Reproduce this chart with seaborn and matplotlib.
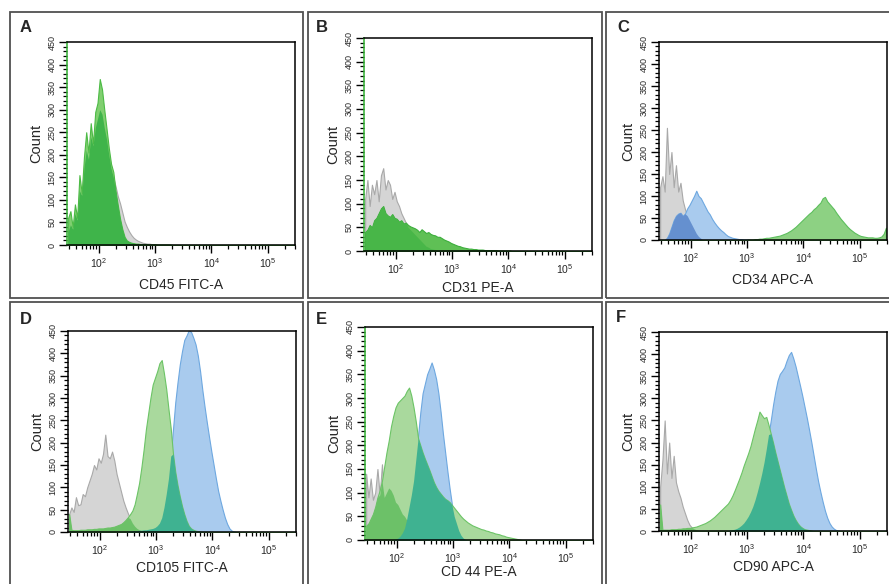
import numpy as np
import pandas as pd
import matplotlib
matplotlib.use("Agg")
import matplotlib.pyplot as plt
import seaborn as sns
from matplotlib.patches import Rectangle
from matplotlib.ticker import LogLocator, MultipleLocator, NullFormatter

sns.set_style("ticks")
plt.rcParams["font.family"] = ["Liberation Sans", "DejaVu Sans"]
plt.rcParams["mathtext.default"] = "regular"

# histogram bins: 0.04 decade wide, log10 scale from 1.44 to 5.48
STEP = 0.04
LOG_MIN, LOG_MAX = 1.44, 5.48

# ---- data: counts per bin, each series starts at the given log10 value ----
# A  CD45 FITC-A
grey_A_start = 1.44
grey_A = [30, 45, 35, 70, 55, 120, 110, 170, 210, 190, 240, 220, 260, 280, 300, 290,
          260, 235, 200, 170, 150, 130, 108, 92, 72, 52, 40, 30, 22, 16, 12, 9, 7, 5,
          4, 3, 3, 2, 2, 1]
green_A_start = 1.44
green_A = [60, 75, 40, 90, 60, 155, 115, 195, 250, 205, 270, 225, 295, 315, 368, 345,
           300, 258, 215, 180, 162, 120, 88, 58, 35, 18, 10, 7, 5, 4, 3, 3, 2, 2, 2, 2,
           1, 1, 2, 1, 1, 1, 1, 1, 1, 1]

# B  CD31 PE-A
grey_B_start = 1.44
grey_B = [110, 150, 95, 140, 120, 150, 105, 160, 175, 130, 150, 140, 110, 125, 105, 95,
          80, 70, 60, 50, 45, 40, 35, 30, 25, 20, 15, 10, 8, 5, 4, 3]
green_B_start = 1.44
green_B = [40, 45, 55, 50, 65, 70, 80, 90, 95, 80, 75, 72, 78, 70, 68, 62, 65, 58, 60,
           55, 52, 50, 48, 45, 40, 46, 42, 38, 40, 36, 34, 33, 30, 30, 27, 24, 22, 20,
           17, 15, 13, 11, 10, 8, 7, 6, 5, 5, 4, 4, 3, 3, 3, 2, 2, 2, 2, 2, 2, 1, 1, 1,
           1, 1, 1]

# C  CD34 APC-A
grey_C_start = 1.44
grey_C = [120, 145, 110, 255, 150, 200, 120, 170, 110, 130, 90, 70, 55, 45, 35, 25, 15,
          8, 4]
blue_C_start = 1.56
blue_C = [5, 15, 30, 45, 55, 60, 62, 55, 60, 72, 80, 90, 100, 112, 100, 95, 85, 75, 65,
          58, 48, 40, 33, 27, 22, 18, 13, 9, 7, 5, 4, 3, 2, 2, 1, 1, 1]
green_C_start = 3.00
green_C = [1, 1, 1, 2, 2, 3, 3, 4, 5, 5, 6, 7, 8, 9, 10, 12, 14, 16, 19, 22, 26, 30, 35,
           40, 45, 50, 55, 60, 64, 70, 74, 80, 85, 95, 98, 88, 82, 76, 70, 62, 55, 48,
           42, 36, 30, 25, 21, 17, 14, 11, 9, 8, 7, 6, 6, 6, 5, 5, 6, 8, 14, 28]

# D  CD105 FITC-A
grey_D_start = 1.44
grey_D = [40, 55, 45, 78, 60, 62, 85, 80, 100, 115, 130, 150, 140, 165, 155, 175, 218,
          170, 165, 180, 160, 130, 110, 90, 70, 55, 42, 30, 20, 13, 8, 5, 3, 2]
green_D_start = 1.44
green_D = [40, 5, 4, 4, 4, 5, 5, 5, 6, 6, 6, 7, 7, 8, 8, 8, 9, 10, 10, 11, 12, 14, 16,
           18, 22, 27, 33, 40, 48, 62, 85, 110, 145, 185, 230, 265, 300, 330, 345, 360,
           378, 385, 355, 320, 275, 232, 175, 135, 105, 80, 58, 40, 25, 14, 8, 5, 3, 2, 1]
blue_D_start = 2.48
blue_D = [2, 2, 3, 3, 3, 4, 4, 5, 5, 6, 7, 8, 10, 14, 20, 32, 55, 85, 120, 170, 230,
          290, 335, 375, 405, 430, 440, 452, 448, 435, 420, 395, 360, 318, 280, 245,
          212, 180, 150, 120, 92, 70, 50, 32, 18, 8, 3, 1]

# E  CD 44 PE-A
grey_E_start = 1.44
grey_E = [140, 90, 130, 85, 100, 150, 95, 160, 90, 100, 110, 105, 95, 80, 75, 65, 55,
          50, 42, 38, 34, 30, 27, 24, 21, 18, 15, 13, 10, 8, 6, 4, 3, 2]
green_E_start = 1.44
green_E = [30, 35, 45, 55, 70, 90, 105, 125, 155, 185, 210, 240, 262, 280, 290, 295,
           300, 305, 315, 322, 305, 280, 250, 215, 200, 185, 172, 160, 148, 135, 122,
           112, 104, 98, 92, 87, 84, 80, 74, 68, 62, 56, 50, 45, 41, 37, 34, 31, 29, 27,
           25, 23, 22, 20, 19, 17, 16, 14, 13, 12, 10, 9, 7, 6, 5, 4, 3, 2, 1]
blue_E_start = 1.96
blue_E = [2, 4, 8, 15, 25, 45, 70, 95, 125, 170, 220, 270, 310, 330, 350, 362, 375, 360,
          340, 310, 270, 225, 185, 145, 108, 75, 50, 35, 20, 10, 4, 1]

# F  CD90 APC-A
grey_F_start = 1.44
grey_F = [100, 160, 250, 130, 200, 120, 170, 110, 90, 75, 55, 40, 25, 14, 8, 5, 3, 2]
green_F_start = 1.44
green_F = [60, 3, 3, 3, 3, 4, 4, 4, 5, 5, 6, 6, 7, 7, 8, 9, 10, 12, 14, 16, 18, 21, 24,
           28, 32, 37, 42, 47, 52, 57, 62, 70, 80, 92, 105, 118, 132, 148, 162, 176, 192,
           212, 232, 250, 270, 262, 255, 258, 240, 220, 200, 178, 158, 138, 118, 98, 80,
           62, 48, 35, 25, 17, 11, 7, 4, 3, 2, 1]
blue_F_start = 2.68
blue_F = [2, 3, 4, 6, 9, 13, 18, 25, 33, 43, 55, 70, 88, 108, 130, 155, 185, 218, 250,
          285, 315, 340, 355, 362, 370, 385, 398, 405, 390, 372, 350, 328, 305, 280, 255,
          228, 200, 170, 140, 112, 88, 66, 46, 30, 18, 10, 5, 2, 1]

letters = ["A", "B", "C", "D", "E", "F"]
xlabels = ["CD45 FITC-A", "CD31 PE-A", "CD34 APC-A",
           "CD105 FITC-A", "CD 44 PE-A", "CD90 APC-A"]

# ---- styling ----
GREY, GREY_EDGE = "#d5d5d5", "#a9a9a9"
BLUE, BLUE_EDGE = "#a9cbee", "#6ea8e0"
LGREEN, LGREEN_EDGE = "#a9d99d", "#6cc466"
TEAL = "#3fb291"
DKBLUE = "#6590cf"
MIDGREEN = "#6cc168"
BRIGHT_GREEN, BRIGHT_GREEN_DK = "#80cf70", "#3fb44a"
CGREEN, CGREEN_EDGE = "#8dd183", "#5dbf5d"

W, H = 889, 584
n_bins = int(round((LOG_MAX - LOG_MIN) / STEP))
centers = LOG_MIN + STEP * (np.arange(n_bins) + 0.5)


def full(start, counts):
    out = np.zeros(n_bins)
    i = int(round((start - LOG_MIN) / STEP))
    out[i:i + len(counts)] = counts
    return out


def hist(ax, counts, fill, edge=None, lw=0.8):
    df = pd.DataFrame({"x": 10 ** centers, "w": counts})
    sns.histplot(data=df, x="x", weights="w", binwidth=STEP, binrange=(LOG_MIN, LOG_MAX),
                 log_scale=True, element="poly", fill=True, color=fill, alpha=1,
                 edgecolor=edge if edge else fill, linewidth=lw if edge else 0, ax=ax)


fig = plt.figure(figsize=(W / 100, H / 100), dpi=100)

# panel frames (pixel boxes)
frames = [(10, 12, 303, 298), (308, 12, 602, 298), (606, 12, 900, 298),
          (10, 302, 303, 600), (308, 302, 602, 600), (606, 302, 900, 600)]
# axes boxes (left, top, right, bottom) in pixels
boxes = [(67, 42, 295, 245), (364, 38, 592, 251), (659, 42, 887, 240),
         (68, 331, 296, 532), (365, 327, 593, 540), (659, 332, 887, 531)]
label_pads = [6, 4, 6, 3, 0, 3]

axes = []
for (l, t, r, b) in boxes:
    axes.append(fig.add_axes([l / W, 1 - b / H, (r - l) / W, (b - t) / H]))

# A
ax = axes[0]
g, gr = full(green_A_start, green_A), full(grey_A_start, grey_A)
hist(ax, gr, GREY, GREY_EDGE)
hist(ax, g, BRIGHT_GREEN, "#4cbb45")
hist(ax, np.minimum(g, gr), BRIGHT_GREEN_DK)

# B
ax = axes[1]
g, gr = full(green_B_start, green_B), full(grey_B_start, grey_B)
hist(ax, gr, GREY, GREY_EDGE)
hist(ax, g, "#5fc055", "#3cae3c")
hist(ax, np.minimum(g, gr), "#48b648")

# C
ax = axes[2]
gr, bl, g = full(grey_C_start, grey_C), full(blue_C_start, blue_C), full(green_C_start, green_C)
hist(ax, gr, GREY, GREY_EDGE)
hist(ax, bl, BLUE, BLUE_EDGE)
hist(ax, np.minimum(gr, bl), DKBLUE)
hist(ax, g, CGREEN, CGREEN_EDGE)

# D, E, F
for ax, (gs, gv), (ns, nv), (bs, bv) in [
        (axes[3], (grey_D_start, grey_D), (green_D_start, green_D), (blue_D_start, blue_D)),
        (axes[4], (grey_E_start, grey_E), (green_E_start, green_E), (blue_E_start, blue_E)),
        (axes[5], (grey_F_start, grey_F), (green_F_start, green_F), (blue_F_start, blue_F))]:
    gr, g, bl = full(gs, gv), full(ns, nv), full(bs, bv)
    hist(ax, gr, GREY, GREY_EDGE)
    hist(ax, bl, BLUE, BLUE_EDGE)
    hist(ax, g, LGREEN, LGREEN_EDGE)
    hist(ax, np.minimum(g, gr), MIDGREEN)
    hist(ax, np.minimum(g, bl), TEAL)

for i, ax in enumerate(axes):
    ax.set_xlim(10 ** LOG_MIN, 10 ** LOG_MAX)
    ax.set_ylim(0, 450)
    ax.set_xticks([1e2, 1e3, 1e4, 1e5])
    ax.set_xticklabels(["$10^{2}$", "$10^{3}$", "$10^{4}$", "$10^{5}$"])
    ax.xaxis.set_minor_locator(LogLocator(base=10, subs=np.arange(2, 10), numticks=20))
    ax.xaxis.set_minor_formatter(NullFormatter())
    ax.set_yticks(np.arange(0, 451, 50))
    ax.yaxis.set_minor_locator(MultipleLocator(10))
    ax.tick_params(axis="both", which="major", direction="out", length=6, width=1,
                   color="black", labelsize=7.5, pad=2)
    ax.tick_params(axis="both", which="minor", direction="out", length=3, width=0.9,
                   color="black")
    ax.tick_params(axis="y", labelrotation=90, labelsize=6.5, pad=1.5)
    for lab in ax.get_yticklabels():
        lab.set_va("center")
    for s in ax.spines.values():
        s.set_visible(True)
        s.set_color("black")
        s.set_linewidth(1.1)
    if i in (0, 1, 4):
        ax.spines["left"].set_color("#2fae2f")
    ax.set_xlabel(xlabels[i], fontsize=10, labelpad=label_pads[i])
    ax.set_ylabel("Count", fontsize=10.5, labelpad=3)

# panel letters and frames
letter_pos = [(20, 28), (316, 28), (617, 28), (20, 320), (316, 320), (616, 318)]
for (x, y), let in zip(letter_pos, letters):
    fig.text(x / W, 1 - y / H, let, fontsize=12, fontweight="bold", ha="left", va="center")

for (x0, y0, x1, y1) in frames:
    fig.add_artist(Rectangle((x0 / W, 1 - y1 / H), (x1 - x0) / W, (y1 - y0) / H,
                             transform=fig.transFigure, fill=False, ec="#505050", lw=1.3))

fig.savefig("out.png", dpi=100)
